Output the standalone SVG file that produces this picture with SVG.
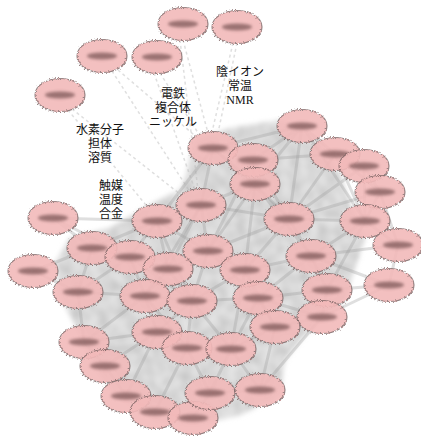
<svg xmlns="http://www.w3.org/2000/svg" width="421" height="438" viewBox="0 0 421 438">
<defs>
<style>
.body{fill:#f2b9b9;fill-opacity:0.9;stroke:#6f5a5a;stroke-width:1.2;stroke-opacity:0.7;filter:url(#fuzz)}
.smudge{fill:#7e5858;opacity:0.75;filter:url(#soft)}
.e{stroke:#9c9c9c;stroke-width:3;stroke-opacity:0.32;fill:none}
.t{stroke:#b8b8b8;stroke-width:1.5;stroke-opacity:0.45;fill:none;stroke-dasharray:3 3}
.lbl{font-family:"Liberation Serif","Noto Sans CJK JP",serif;font-size:12px;text-anchor:middle;fill:#111}
</style>
<filter id="fuzz" x="-20%" y="-30%" width="140%" height="160%">
<feTurbulence type="fractalNoise" baseFrequency="0.55" numOctaves="1" seed="2" result="t"/>
<feDisplacementMap in="SourceGraphic" in2="t" scale="4" xChannelSelector="R" yChannelSelector="G"/>
</filter>
<filter id="soft" x="-30%" y="-100%" width="160%" height="300%">
<feGaussianBlur stdDeviation="1.5"/>
</filter>
<filter id="mottle" x="0" y="0" width="100%" height="100%">
<feTurbulence type="fractalNoise" baseFrequency="0.11" numOctaves="2" seed="5" result="n"/>
<feColorMatrix in="n" type="matrix" values="0 0 0 0 0.58  0 0 0 0 0.58  0 0 0 0 0.58  0 0 0 2.2 -0.65" result="g"/>
<feComposite in="g" in2="SourceAlpha" operator="in" result="gm"/>
<feMerge><feMergeNode in="SourceGraphic"/><feMergeNode in="gm"/></feMerge>
</filter>
<filter id="hazeblur" x="-10%" y="-10%" width="120%" height="120%">
<feGaussianBlur stdDeviation="2.5"/>
</filter>
</defs>
<rect width="421" height="438" fill="#ffffff"/>
<g id="haze" filter="url(#hazeblur)">
<path d="M70,238 L110,228 L150,205 L182,188 L195,140 L230,128 L280,120 L318,138 L342,178 L350,205 L365,238 L355,268 L345,300 L305,335 L285,360 L280,395 L240,415 L195,425 L155,420 L115,395 L95,368 L80,335 L62,300 L55,262 Z" fill="#e4e4e4" filter="url(#mottle)"/>
</g>
<g id="connectors">
<g class="tops">
<path class="t" d="M183,40 L208,133"/>
<path class="t" d="M180,40 L198,190"/>
<path class="t" d="M237,43 L218,133"/>
<path class="t" d="M233,43 L212,132"/>
<path class="t" d="M160,73 L200,136"/>
<path class="t" d="M154,73 L195,190"/>
<path class="t" d="M112,71 L190,192"/>
<path class="t" d="M118,70 L200,140"/>
<path class="t" d="M72,109 L185,198"/>
<path class="t" d="M68,110 L150,210"/>
</g>
<g class="mesh">
<path class="e" d="M302,126L253,160M302,126L335,154M302,126L255,184M302,126L289,219M302,126L213,148"/>
<path class="e" d="M213,148L253,160M213,148L255,184M213,148L201,205M213,148L157,221"/>
<path class="e" d="M253,160L255,184M253,160L289,219M253,160L335,154"/>
<path class="e" d="M335,154L364,166M335,154L289,219M335,154L365,221M335,154L380,192"/>
<path class="e" d="M364,166L380,192M364,166L365,221"/>
<path class="e" d="M255,184L201,205M255,184L289,219M255,184L208,251M255,184L245,270"/>
<path class="e" d="M380,192L365,221M380,192L398,245M380,192L289,219"/>
<path class="e" d="M201,205L157,221M201,205L208,251M201,205L289,219M201,205L168,269"/>
<path class="e" d="M289,219L311,256M289,219L365,221M289,219L245,270M289,219L208,251"/>
<path class="e" d="M365,221L398,245M365,221L311,256M365,221L327,290"/>
<path class="e" d="M157,221L130,257M157,221L168,269M157,221L92,248M157,221L208,251"/>
<path class="e" d="M53,218L92,248M53,218L157,221M53,218L130,257"/>
<path class="e" d="M398,245L389,285M398,245L311,256"/>
<path class="e" d="M311,256L245,270M311,256L327,290M311,256L258,298M311,256L389,285"/>
<path class="e" d="M92,248L130,257M92,248L33,271M92,248L78,292"/>
<path class="e" d="M130,257L168,269M130,257L145,296M130,257L78,292"/>
<path class="e" d="M208,251L245,270M208,251L168,269M208,251L192,301"/>
<path class="e" d="M168,269L145,296M168,269L192,301"/>
<path class="e" d="M245,270L258,298M245,270L192,301M245,270L275,327"/>
<path class="e" d="M33,271L78,292M78,292L145,296M78,292L84,342"/>
<path class="e" d="M145,296L192,301M145,296L157,332M145,296L84,342"/>
<path class="e" d="M192,301L258,298M192,301L187,348M192,301L157,332M192,301L231,349"/>
<path class="e" d="M258,298L327,290M258,298L275,327M258,298L231,349M258,298L322,317"/>
<path class="e" d="M327,290L389,285M327,290L322,317M389,285L322,317"/>
<path class="e" d="M322,317L275,327M322,317L260,390M275,327L231,349M275,327L260,390"/>
<path class="e" d="M157,332L187,348M157,332L84,342M157,332L105,366M157,332L126,396"/>
<path class="e" d="M187,348L231,349M187,348L210,393M187,348L155,412"/>
<path class="e" d="M231,349L210,393M231,349L260,390"/>
<path class="e" d="M84,342L105,366M105,366L126,396M126,396L155,412M155,412L193,418M193,418L210,393M210,393L260,390"/>
<path class="e" d="M213,148L289,219M255,184L311,256M201,205L145,296M157,221L192,301M208,251L258,298M245,270L231,349M253,160L208,251M302,126L365,221M364,166L289,219M130,257L192,301M145,296L187,348"/>
</g>
</g>
<g id="nodes">
<g id="t1" transform="translate(183,24)"><ellipse class="body" rx="25" ry="16.5"/><ellipse class="smudge" rx="15" ry="3.4"/></g>
<g id="t2" transform="translate(237,27)"><ellipse class="body" rx="25" ry="16.5"/><ellipse class="smudge" rx="15" ry="3.4"/></g>
<g id="t3" transform="translate(102,56)"><ellipse class="body" rx="25" ry="16.5"/><ellipse class="smudge" rx="15" ry="3.4"/></g>
<g id="t4" transform="translate(157,57)"><ellipse class="body" rx="25" ry="16.5"/><ellipse class="smudge" rx="15" ry="3.4"/></g>
<g id="t5" transform="translate(60,95)"><ellipse class="body" rx="25" ry="16.5"/><ellipse class="smudge" rx="15" ry="3.4"/></g>
<g id="n1" transform="translate(302,126)"><ellipse class="body" rx="25" ry="16.5"/><ellipse class="smudge" rx="15" ry="3.4"/></g>
<g id="n2" transform="translate(213,148)"><ellipse class="body" rx="25" ry="16.5"/><ellipse class="smudge" rx="15" ry="3.4"/></g>
<g id="n3" transform="translate(253,160)"><ellipse class="body" rx="25" ry="16.5"/><ellipse class="smudge" rx="15" ry="3.4"/></g>
<g id="n4" transform="translate(335,154)"><ellipse class="body" rx="25" ry="16.5"/><ellipse class="smudge" rx="15" ry="3.4"/></g>
<g id="n5" transform="translate(364,166)"><ellipse class="body" rx="25" ry="16.5"/><ellipse class="smudge" rx="15" ry="3.4"/></g>
<g id="n6" transform="translate(255,184)"><ellipse class="body" rx="25" ry="16.5"/><ellipse class="smudge" rx="15" ry="3.4"/></g>
<g id="n7" transform="translate(380,192)"><ellipse class="body" rx="25" ry="16.5"/><ellipse class="smudge" rx="15" ry="3.4"/></g>
<g id="n8" transform="translate(201,205)"><ellipse class="body" rx="25" ry="16.5"/><ellipse class="smudge" rx="15" ry="3.4"/></g>
<g id="n9" transform="translate(289,219)"><ellipse class="body" rx="25" ry="16.5"/><ellipse class="smudge" rx="15" ry="3.4"/></g>
<g id="n10" transform="translate(365,221)"><ellipse class="body" rx="25" ry="16.5"/><ellipse class="smudge" rx="15" ry="3.4"/></g>
<g id="n11" transform="translate(157,221)"><ellipse class="body" rx="25" ry="16.5"/><ellipse class="smudge" rx="15" ry="3.4"/></g>
<g id="n12" transform="translate(53,218)"><ellipse class="body" rx="25" ry="16.5"/><ellipse class="smudge" rx="15" ry="3.4"/></g>
<g id="n13" transform="translate(398,245)"><ellipse class="body" rx="25" ry="16.5"/><ellipse class="smudge" rx="15" ry="3.4"/></g>
<g id="n14" transform="translate(311,256)"><ellipse class="body" rx="25" ry="16.5"/><ellipse class="smudge" rx="15" ry="3.4"/></g>
<g id="n15" transform="translate(92,248)"><ellipse class="body" rx="25" ry="16.5"/><ellipse class="smudge" rx="15" ry="3.4"/></g>
<g id="n16" transform="translate(130,257)"><ellipse class="body" rx="25" ry="16.5"/><ellipse class="smudge" rx="15" ry="3.4"/></g>
<g id="n17" transform="translate(208,251)"><ellipse class="body" rx="25" ry="16.5"/><ellipse class="smudge" rx="15" ry="3.4"/></g>
<g id="n18" transform="translate(168,269)"><ellipse class="body" rx="25" ry="16.5"/><ellipse class="smudge" rx="15" ry="3.4"/></g>
<g id="n19" transform="translate(245,270)"><ellipse class="body" rx="25" ry="16.5"/><ellipse class="smudge" rx="15" ry="3.4"/></g>
<g id="n20" transform="translate(33,271)"><ellipse class="body" rx="25" ry="16.5"/><ellipse class="smudge" rx="15" ry="3.4"/></g>
<g id="n21" transform="translate(78,292)"><ellipse class="body" rx="25" ry="16.5"/><ellipse class="smudge" rx="15" ry="3.4"/></g>
<g id="n22" transform="translate(145,296)"><ellipse class="body" rx="25" ry="16.5"/><ellipse class="smudge" rx="15" ry="3.4"/></g>
<g id="n23" transform="translate(192,301)"><ellipse class="body" rx="25" ry="16.5"/><ellipse class="smudge" rx="15" ry="3.4"/></g>
<g id="n24" transform="translate(258,298)"><ellipse class="body" rx="25" ry="16.5"/><ellipse class="smudge" rx="15" ry="3.4"/></g>
<g id="n25" transform="translate(327,290)"><ellipse class="body" rx="25" ry="16.5"/><ellipse class="smudge" rx="15" ry="3.4"/></g>
<g id="n26" transform="translate(389,285)"><ellipse class="body" rx="25" ry="16.5"/><ellipse class="smudge" rx="15" ry="3.4"/></g>
<g id="n27" transform="translate(322,317)"><ellipse class="body" rx="25" ry="16.5"/><ellipse class="smudge" rx="15" ry="3.4"/></g>
<g id="n28" transform="translate(275,327)"><ellipse class="body" rx="25" ry="16.5"/><ellipse class="smudge" rx="15" ry="3.4"/></g>
<g id="n29" transform="translate(157,332)"><ellipse class="body" rx="25" ry="16.5"/><ellipse class="smudge" rx="15" ry="3.4"/></g>
<g id="n30" transform="translate(187,348)"><ellipse class="body" rx="25" ry="16.5"/><ellipse class="smudge" rx="15" ry="3.4"/></g>
<g id="n31" transform="translate(231,349)"><ellipse class="body" rx="25" ry="16.5"/><ellipse class="smudge" rx="15" ry="3.4"/></g>
<g id="n32" transform="translate(84,342)"><ellipse class="body" rx="25" ry="16.5"/><ellipse class="smudge" rx="15" ry="3.4"/></g>
<g id="n33" transform="translate(105,366)"><ellipse class="body" rx="25" ry="16.5"/><ellipse class="smudge" rx="15" ry="3.4"/></g>
<g id="n34" transform="translate(126,396)"><ellipse class="body" rx="25" ry="16.5"/><ellipse class="smudge" rx="15" ry="3.4"/></g>
<g id="n35" transform="translate(155,412)"><ellipse class="body" rx="25" ry="16.5"/><ellipse class="smudge" rx="15" ry="3.4"/></g>
<g id="n36" transform="translate(193,418)"><ellipse class="body" rx="25" ry="16.5"/><ellipse class="smudge" rx="15" ry="3.4"/></g>
<g id="n37" transform="translate(210,393)"><ellipse class="body" rx="25" ry="16.5"/><ellipse class="smudge" rx="15" ry="3.4"/></g>
<g id="n38" transform="translate(260,390)"><ellipse class="body" rx="25" ry="16.5"/><ellipse class="smudge" rx="15" ry="3.4"/></g>
</g>
<g id="labels">
<text class="lbl" x="173" y="98">電鉄</text>
<text class="lbl" x="173" y="112">複合体</text>
<text class="lbl" x="173" y="126">ニッケル</text>
<text class="lbl" x="100" y="134">水素分子</text>
<text class="lbl" x="100" y="148">担体</text>
<text class="lbl" x="100" y="162">溶質</text>
<text class="lbl" x="111" y="190">触媒</text>
<text class="lbl" x="111" y="204">温度</text>
<text class="lbl" x="111" y="218">合金</text>
<text class="lbl" x="240" y="76">陰イオン</text>
<text class="lbl" x="240" y="90">常温</text>
<text class="lbl" x="240" y="104">NMR</text>
</g>
</svg>
